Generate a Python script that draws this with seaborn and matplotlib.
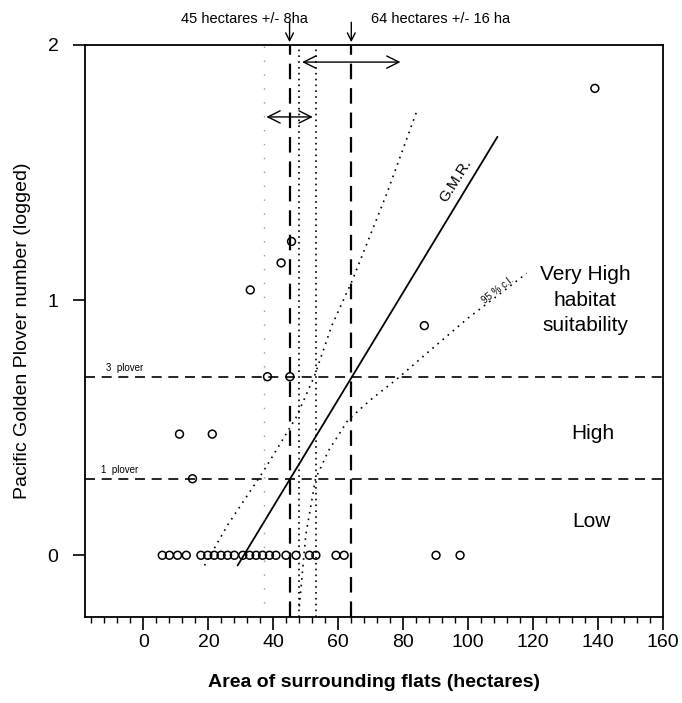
import numpy as np
import pandas as pd
import matplotlib
matplotlib.use("Agg")
import matplotlib.pyplot as plt
import seaborn as sns
from matplotlib.ticker import MultipleLocator

# flats with no plover (log count = 0)
zero_x = [5.8, 8.0, 10.5, 13.2, 17.7, 19.8, 21.8, 23.9, 25.9, 28.0, 30.6, 32.7,
          34.7, 36.7, 38.8, 40.8, 43.9, 47.0, 51.1, 53.1, 59.3, 61.8, 90.1, 97.5]
# flats with plover present
occ_x = [15.1, 11.1, 21.2, 38.2, 45.1, 32.9, 42.4, 45.6, 86.5, 139.0]
occ_y = [0.30, 0.475, 0.475, 0.70, 0.70, 1.04, 1.146, 1.23, 0.90, 1.83]

# geometric mean regression line and 95% confidence curves
gmr_x = [29, 109]
gmr_y = [-0.04, 1.64]
ci_up_x = [18.8, 26, 37, 47, 52.6, 58, 64.4, 75, 84.3]
ci_up_y = [-0.04, 0.12, 0.33, 0.54, 0.70, 0.90, 1.08, 1.42, 1.745]
ci_lo_x = [48, 50, 53, 57, 63, 70, 78, 88, 100, 118]
ci_lo_y = [-0.20, 0.08, 0.30, 0.41, 0.53, 0.61, 0.69, 0.80, 0.93, 1.105]

thresholds = [0.30, 0.70]        # 1 plover, 3 plover
area_est = [45, 64]              # hectares
area_ci = [(37, 53), (48, 80)]

df = pd.DataFrame({"area": zero_x + occ_x,
                   "plover": [0.0] * len(zero_x) + occ_y})

sns.set_style("ticks")
plt.rcParams['font.family'] = ['Liberation Sans', 'DejaVu Sans']
plt.rcParams.update({"text.color": "black", "axes.labelcolor": "black",
                     "xtick.color": "black", "ytick.color": "black"})

fig = plt.figure(figsize=(6.82, 7.03), dpi=100)
ax = fig.add_axes([0.1246, 0.1223, 0.8476, 0.8137])

sns.scatterplot(data=df, x="area", y="plover", ax=ax, marker="o",
                facecolor="none", edgecolor="black", linewidth=1.1, s=32, zorder=3)

sns.lineplot(x=gmr_x, y=gmr_y, ax=ax, color="black", lw=1.3, sort=False)
sns.lineplot(x=ci_up_x, y=ci_up_y, ax=ax, color="black", lw=1.2,
             linestyle=(0, (1, 3)), sort=False)
sns.lineplot(x=ci_lo_x, y=ci_lo_y, ax=ax, color="black", lw=1.2,
             linestyle=(0, (1, 3)), sort=False)

for t in thresholds:
    ax.axhline(t, color="black", lw=1.2, linestyle=(0, (6, 4)))
for a in area_est:
    ax.axvline(a, color="black", lw=1.6, linestyle=(0, (7, 4)))
ax.axvline(area_ci[0][0], color="0.6", lw=1.0, linestyle=(0, (1, 9)))
ax.axvline(area_ci[1][0], color="black", lw=1.2, linestyle=(0, (1, 2.5)))
ax.axvline(area_ci[0][1], color="black", lw=1.2, linestyle=(0, (1, 2.5)))

# interval arrows
ax.annotate("", xy=(area_ci[0][0], 1.718), xytext=(area_ci[0][1], 1.718),
            arrowprops=dict(arrowstyle="<->", lw=1.0, color="black",
                            mutation_scale=22))
ax.annotate("", xy=(area_ci[1][0], 1.933), xytext=(area_ci[1][1], 1.933),
            arrowprops=dict(arrowstyle="<->", lw=1.0, color="black",
                            mutation_scale=22))
for a in area_est:
    ax.annotate("", xy=(a, 2.0), xytext=(a, 2.1), annotation_clip=False,
                arrowprops=dict(arrowstyle="->", lw=1.0, color="black",
                                mutation_scale=14))

ax.text(31, 2.1, "45 hectares +/- 8ha", ha="center", va="center", fontsize=10.5)
ax.text(70, 2.1, "64 hectares +/- 16 ha", ha="left", va="center", fontsize=10.5)

ax.text(-11.5, 0.715, "3  plover", fontsize=7, ha="left", va="bottom")
ax.text(-13, 0.315, "1  plover", fontsize=7, ha="left", va="bottom")
ax.text(96, 1.47, "G.M.R.", fontsize=11, rotation=58, ha="center", va="center")
ax.text(109, 1.04, "95 % c.l.", fontsize=7, rotation=38, ha="center", va="center")
ax.text(136, 1.0, "Very High\nhabitat\nsuitability", fontsize=15, ha="center",
        va="center", linespacing=1.45)
ax.text(138.5, 0.478, "High", fontsize=15, ha="center", va="center")
ax.text(138, 0.133, "Low", fontsize=15, ha="center", va="center")

ax.set_xlim(-18, 160)
ax.set_ylim(-0.242, 2.0)
ax.set_xticks(range(0, 161, 20))
ax.xaxis.set_minor_locator(MultipleLocator(4))
ax.set_yticks([0, 1, 2])
ax.tick_params(axis="both", which="major", direction="out", length=9, width=1.2,
               labelsize=14, color="black")
ax.tick_params(axis="x", which="minor", direction="out", length=4, width=1.0)
ax.tick_params(axis="y", which="major", pad=10)

for s in ax.spines.values():
    s.set_visible(True)
    s.set_color("black")
    s.set_linewidth(1.3)

ax.set_xlabel("Area of surrounding flats (hectares)", fontsize=14,
              fontweight="bold", labelpad=16)
ax.set_ylabel("Pacific Golden Plover number (logged)", fontsize=14, labelpad=12)

fig.savefig("out.png", dpi=100)
